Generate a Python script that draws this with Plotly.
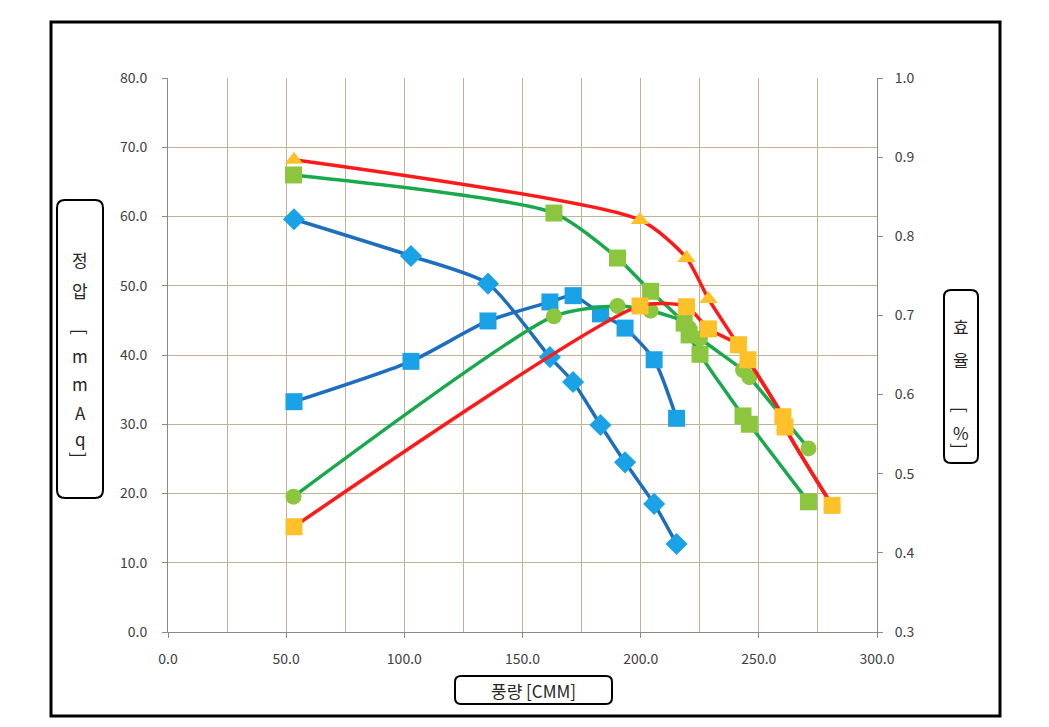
import plotly.graph_objects as go

# ---------------- data ----------------
flow_a = [53.3, 102.8, 135.4, 161.6, 171.4, 183.0, 193.4, 205.7, 215.2]
pressure_a = [59.6, 54.3, 50.3, 39.7, 36.1, 29.9, 24.5, 18.5, 12.7]
eff_a = [0.591, 0.642, 0.693, 0.717, 0.725, 0.702, 0.684, 0.644, 0.570]

flow_b = [53.1, 163.3, 190.2, 204.2, 218.4, 220.5, 225.1, 243.3, 246.0, 271.0]
pressure_b = [66.0, 60.5, 54.0, 49.2, 44.6, 42.9, 40.1, 31.2, 30.0, 18.8]
eff_b = [0.471, 0.699, 0.712, 0.706, 0.692, 0.684, 0.671, 0.631, 0.622, 0.532]

flow_c = [53.3, 199.7, 219.4, 228.7, 241.4, 245.4, 260.2, 261.1, 281.0]
pressure_c = [68.2, 59.5, 54.0, 48.1, 41.4, 39.3, 31.0, 29.6, 18.3]
eff_c = [0.433, 0.712, 0.711, 0.683, 0.663, 0.644, 0.572, 0.559, 0.460]

x_ticks = [0, 50, 100, 150, 200, 250, 300]
y_title = "정압 [mmAq]"
y2_title = "효율 [%]"
x_title = "풍량 [CMM]"

# ---------------- styling ----------------
W, H = 1049, 727
BLUE_L, BLUE_M = "#1E6EC0", "#19A3E6"
GREEN_L, GREEN_M = "#17A94C", "#8CC63F"
RED_L, YEL_M = "#FF1A1A", "#FFC12A"
GRID = "#BDB596"
AXIS = "#8A8A8A"
FONT = "Noto Sans CJK KR"


def X(p):
    return p / W


def Y(p):
    return 1 - p / H


fig = go.Figure()


def add(x, y, axis, lc, mc, sym, size):
    fig.add_trace(go.Scatter(
        x=x, y=y, yaxis=axis, mode="lines+markers",
        line=dict(color=lc, width=3.5, shape="spline", smoothing=0.65),
        marker=dict(color=mc, symbol=sym, size=size, line=dict(width=0)),
        showlegend=False, hoverinfo="x+y"))


add(flow_a, pressure_a, "y", BLUE_L, BLUE_M, "diamond", 17)
add(flow_c, pressure_c, "y", RED_L, YEL_M, "triangle-up", 16)
add(flow_b, pressure_b, "y", GREEN_L, GREEN_M, "square", 17)
add(flow_a, eff_a, "y2", BLUE_L, BLUE_M, "square", 17)
add(flow_b, eff_b, "y2", GREEN_L, GREEN_M, "circle", 16)
add(flow_c, eff_c, "y2", RED_L, YEL_M, "square", 17)

tickfont = dict(family=FONT, size=14, color="#404040")

fig.update_layout(
    width=W, height=H, margin=dict(l=0, r=0, t=0, b=0, autoexpand=False),
    paper_bgcolor="white", plot_bgcolor="white",
    xaxis=dict(range=[0, 300], domain=[X(168), X(877)], automargin=False,
               tickvals=x_ticks, tickformat=".1f",
               showgrid=True, gridcolor=GRID, gridwidth=1,
               minor=dict(dtick=25, tick0=0, showgrid=True, gridcolor=GRID, gridwidth=1),
               showline=True, linecolor=AXIS, linewidth=1,
               ticks="outside", ticklen=5, tickcolor=AXIS,
               zeroline=False, tickfont=tickfont, ticklabelstandoff=9,
               fixedrange=True),
    yaxis=dict(range=[0, 80], domain=[Y(632), Y(78)], dtick=10, tick0=0,
               automargin=False,
               tickformat=".1f", showgrid=True, gridcolor=GRID, gridwidth=1,
               showline=True, linecolor=AXIS, linewidth=1,
               ticks="outside", ticklen=5, tickcolor=AXIS,
               zeroline=False, tickfont=tickfont, ticklabelstandoff=12,
               fixedrange=True),
    yaxis2=dict(range=[0.3, 1.0], overlaying="y", side="right", anchor="x",
                automargin=False,
                dtick=0.1, tick0=0.3, tickformat=".1f", showgrid=False,
                showline=True, linecolor=AXIS, linewidth=1,
                ticks="outside", ticklen=5, tickcolor=AXIS,
                zeroline=False, tickfont=tickfont, ticklabelstandoff=9,
                fixedrange=True),
)


def rrect(x0, y0, x1, y1, r):
    return (f"M {X(x0 + r)},{Y(y0)} L {X(x1 - r)},{Y(y0)} "
            f"Q {X(x1)},{Y(y0)} {X(x1)},{Y(y0 + r)} L {X(x1)},{Y(y1 - r)} "
            f"Q {X(x1)},{Y(y1)} {X(x1 - r)},{Y(y1)} L {X(x0 + r)},{Y(y1)} "
            f"Q {X(x0)},{Y(y1)} {X(x0)},{Y(y1 - r)} L {X(x0)},{Y(y0 + r)} "
            f"Q {X(x0)},{Y(y0)} {X(x0 + r)},{Y(y0)} Z")


shapes = [
    dict(type="rect", xref="paper", yref="paper", x0=X(51), x1=X(1000),
         y0=Y(716), y1=Y(22), line=dict(color="black", width=3)),
    dict(type="path", xref="paper", yref="paper", path=rrect(57, 200, 103, 498, 8),
         line=dict(color="black", width=2)),
    dict(type="path", xref="paper", yref="paper", path=rrect(944, 290, 978, 463, 7),
         line=dict(color="black", width=2)),
    dict(type="path", xref="paper", yref="paper", path=rrect(455, 676, 612, 704, 6),
         line=dict(color="black", width=2)),
]
fig.update_layout(shapes=shapes)

ann = []
lab_font = dict(family=FONT, size=17, color="#262626")


def stack(chars, cx, ys):
    for ch, yy in zip(chars, ys):
        if ch == " ":
            continue
        ang = 90 if ch in "[]" else 0
        ann.append(dict(text=ch, x=X(cx), y=Y(yy), xref="paper", yref="paper",
                        showarrow=False, xanchor="center", yanchor="middle",
                        textangle=ang, font=lab_font))


stack(list(y_title), 80, [260, 290, 311, 332, 355, 383, 412, 438, 455])
stack(list(y2_title), 961, [327, 360, 385, 410, 432, 446])
ann.append(dict(text=x_title, x=X(533), y=Y(690), xref="paper", yref="paper",
                showarrow=False, xanchor="center", yanchor="middle",
                font=dict(family=FONT, size=17, color="#262626")))
fig.update_layout(annotations=ann)

fig.write_html("out.html", config={"displayModeBar": False},
               post_script="document.body.style.margin='0';")
